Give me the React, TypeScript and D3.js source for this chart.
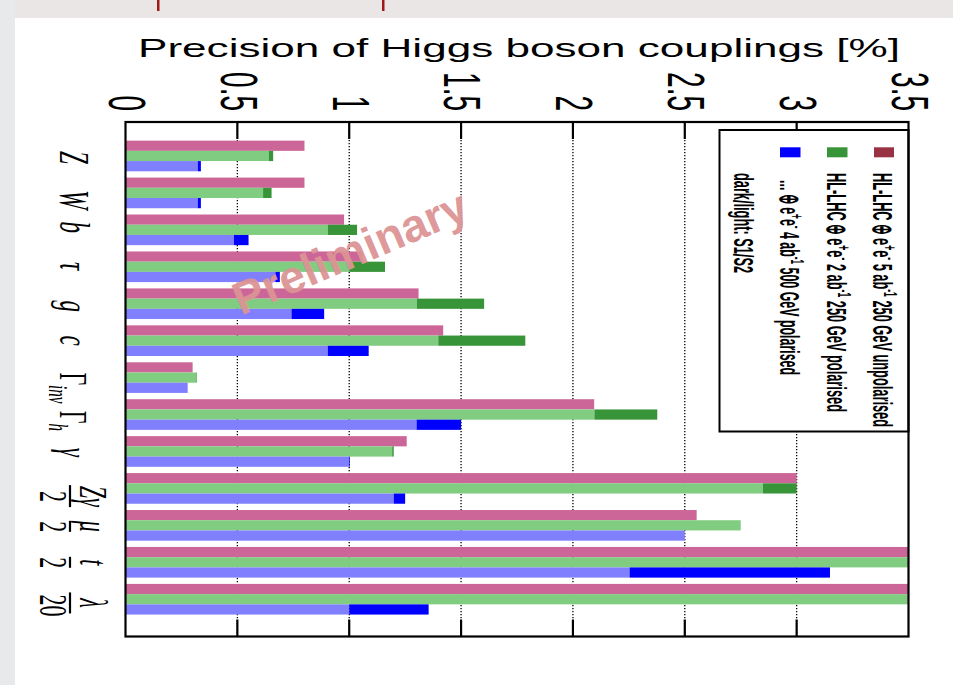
import React from "react";
import * as d3 from "d3";

// ---- data ----
const categories = ["Z", "W", "b", "tau", "g", "c", "Ginv", "Gh", "gamma", "Zgamma", "mu", "t", "lambda"];
// HL-LHC + e+e- 5 ab^-1 250 GeV unpolarised
const pinkValues = [0.8, 0.8, 0.977, 1.06, 1.31, 1.42, 0.3, 2.095, 1.257, 3.0, 2.553, 3.6, 3.6];
// HL-LHC + e+e- 2 ab^-1 250 GeV polarised (light = S2, dark = S1)
const greenS2 = [0.64, 0.615, 0.905, 1.0, 1.302, 1.398, 0.315, 2.096, 1.192, 2.849, 2.75, 3.6, 3.6];
const greenS1 = [0.66, 0.653, 1.035, 1.16, 1.603, 1.787, 0.318, 2.377, 1.199, 3.0, 2.75, 3.6, 3.6];
// ... + e+e- 4 ab^-1 500 GeV polarised (light = S2, dark = S1)
const blueS2 = [0.323, 0.323, 0.485, 0.67, 0.742, 0.904, 0.278, 1.301, 1.0, 1.199, 2.5, 2.253, 1.0];
const blueS1 = [0.337, 0.337, 0.55, 0.69, 0.888, 1.087, 0.278, 1.5, 1.003, 1.25, 2.5, 3.149, 1.355];
const xTicks = [0, 0.5, 1, 1.5, 2, 2.5, 3, 3.5];
const xTickLabels = ["0", "0.5", "1", "1.5", "2", "2.5", "3", "3.5"];
const gridTicks = [0.5, 1, 1.5, 2, 2.5, 3];
const labelShift = [1.5, 7, -2.5, -0.7, 2.5, 0, 1.3, 2.7, 0.8, 7.7, 1, 0, 3.7];

const S = 1.85; // horizontal stretch of the rotated text
const SANS = "'Liberation Sans', Arial, Helvetica, sans-serif";
const NARROW = "'Liberation Sans Narrow', 'Arial Narrow', 'Liberation Sans', sans-serif";
const SERIF = "'Liberation Serif', 'Times New Roman', serif";

const C = {
  pink: "#cc6699",
  pinkDark: "#993344",
  greenLight: "#80cc80",
  greenDark: "#389438",
  blueLight: "#8080ff",
  blueDark: "#0000ff",
};

function RT(props: any) {
  const { x, y, anchor = "middle", fs = 22, family = SERIF, italic = false, dy, weight, textLength, children } = props;
  return (
    <g transform={`translate(${x},${y}) scale(${S},1) rotate(90)`}>
      <text
        textAnchor={anchor}
        fontSize={fs}
        fontFamily={family}
        fontStyle={italic ? "italic" : "normal"}
        fontWeight={weight || "normal"}
        dy={dy}
        textLength={textLength}
        lengthAdjust={textLength ? "spacingAndGlyphs" : undefined}
        fill="#000"
      >
        {children}
      </text>
    </g>
  );
}

export default function App() {
  const W = 953, H = 685;
  const top = 122, bottom = 636.5;
  const x = d3.scaleLinear().domain([0, 3.5]).range([125.5, 908.5]).clamp(true);
  const y = d3.scaleBand<string>().domain(categories).range([137.5, 617.7]).paddingInner(0.17).paddingOuter(0.085);
  const sub = d3.scaleBand<string>().domain(["pink", "green", "blue"]).range([0, y.bandwidth()]);
  const bh = sub.bandwidth();

  const bar = (key: string, c: string, v0: number, v1: number, fill: string) => (
    <rect key={key} x={x(v0)} y={(y(c) as number) + (sub(key.split("-")[0]) as number)} width={Math.max(0, x(v1) - x(v0))} height={bh} fill={fill} />
  );

  const label = (c: string, i: number) => {
    const cy = (y(c) as number) + y.bandwidth() / 2 + labelShift[i];
    const simple: any = { Z: "Z", W: "W", b: "b", tau: "τ", g: "g", c: "c", gamma: "γ" };
    if (simple[c]) return <RT key={c} x={60} y={cy} italic fs={23}>{simple[c]}</RT>;
    if (c === "Ginv" || c === "Gh")
      return (
        <g key={c}>
          <g transform={`translate(60,${cy}) scale(${S},1) rotate(90)`}>
            <text x={-6.5} fontSize={22} fontFamily={SERIF} textAnchor="start">
              Γ
              <tspan dy={6} fontSize={15} fontStyle="italic">{c === "Ginv" ? "inv" : "h"}</tspan>
            </text>
          </g>
        </g>
      );
    const frac: any = {
      Zgamma: { num: "Zγ", den: "2", half: 11 },
      mu: { num: "μ", den: "2", half: 5.5 },
      t: { num: "t", den: "2", half: 5.5 },
      lambda: { num: "λ", den: "20", half: 10.5 },
    };
    const f = frac[c];
    return (
      <g key={c}>
        <RT x={80} y={cy} italic>{f.num}</RT>
        <line x1={70} x2={70} y1={cy - f.half} y2={cy + f.half} stroke="#000" strokeWidth={2.2} />
        <RT x={40} y={cy + (c === "lambda" ? 2.5 : 0.5)}>{f.den}</RT>
      </g>
    );
  };

  const legX = 719.5, legR = 908.5, legT = 130, legB = 431.5;
  const sup = (s: string) => [
    <tspan key={s + "a"} dy={-6} fontSize={10}>{s}</tspan>,
  ];

  return (
    <svg width={W} height={H} style={{ position: "absolute", left: 0, top: 0, background: "#fff" }}>
      {/* slide background remnants */}
      <rect x={0} y={0} width={W} height={18} fill="#ebe6e6" />
      <rect x={0} y={0} width={15} height={H} fill="#e7e9eb" />
      <rect x={157} y={0} width={2.5} height={11} fill="#a01818" />
      <rect x={382} y={0} width={2.5} height={11} fill="#a01818" />

      {/* title */}
      <text x={138} y={57} fontSize={25} fontFamily={SANS} textLength={762} lengthAdjust="spacingAndGlyphs" fill="#000">
        Precision of Higgs boson couplings [%]
      </text>

      {/* tick labels */}
      {xTicks.map((t, i) => (
        <RT key={"tl" + i} x={x(t) + 2} y={111} anchor="end" fs={28} family={SANS} dy="0.36em">
          {xTickLabels[i]}
        </RT>
      ))}

      {/* plot area */}
      <rect x={x(0)} y={top} width={x(3.5) - x(0)} height={bottom - top} fill="#fff" />
      {gridTicks.map((t) => (
        <line key={"g" + t} x1={x(t)} x2={x(t)} y1={top} y2={bottom} stroke="#000" strokeWidth={1.3} strokeDasharray="1.3 1.7" />
      ))}

      {/* bars */}
      {categories.map((c, i) => (
        <g key={"b" + c}>
          {bar("pink", c, 0, pinkValues[i], C.pink)}
          {bar("green-l", c, 0, greenS2[i], C.greenLight)}
          {bar("green-d", c, greenS2[i], greenS1[i], C.greenDark)}
          {bar("blue-l", c, 0, blueS2[i], C.blueLight)}
          {bar("blue-d", c, blueS2[i], blueS1[i], C.blueDark)}
        </g>
      ))}

      {/* ticks */}
      {xTicks.slice(1, -1).map((t) => (
        <g key={"tk" + t}>
          <line x1={x(t)} x2={x(t)} y1={top} y2={top + 17} stroke="#000" strokeWidth={2.2} />
          <line x1={x(t)} x2={x(t)} y1={bottom} y2={bottom - 17} stroke="#000" strokeWidth={2.2} />
        </g>
      ))}

      {/* legend */}
      <rect x={legX} y={legT} width={legR - legX} height={legB - legT} fill="#fff" stroke="#000" strokeWidth={2} />
      <rect x={874} y={147.3} width={20} height={10} fill={C.pinkDark} />
      <rect x={827} y={147.3} width={20.5} height={10} fill={C.greenDark} />
      <rect x={780} y={147.3} width={20.5} height={10} fill={C.blueDark} />
      <RT x={873} y={173} anchor="start" fs={15} family={NARROW} weight="bold" textLength={254}>
        HL-LHC ⊕ e{sup("+")}<tspan dy={6}>e</tspan>
        {sup("-")}
        <tspan dy={6}> 5 ab</tspan>
        {sup("-1")}
        <tspan dy={6}> 250 GeV unpolarised</tspan>
      </RT>
      <RT x={827} y={173} anchor="start" fs={15} family={NARROW} weight="bold" textLength={239}>
        HL-LHC ⊕ e{sup("+")}<tspan dy={6}>e</tspan>
        {sup("-")}
        <tspan dy={6}> 2 ab</tspan>
        {sup("-1")}
        <tspan dy={6}> 250 GeV polarised</tspan>
      </RT>
      <RT x={780} y={180} anchor="start" fs={15} family={NARROW} weight="bold" textLength={195}>
        ... ⊕ e{sup("+")}<tspan dy={6}>e</tspan>
        {sup("-")}
        <tspan dy={6}> 4 ab</tspan>
        {sup("-1")}
        <tspan dy={6}> 500 GeV polarised</tspan>
      </RT>
      <RT x={734} y={173} anchor="start" fs={15} family={NARROW} weight="bold" textLength={100}>
        dark/light: S1/S2
      </RT>

      {/* frame */}
      <rect x={x(0)} y={top} width={x(3.5) - x(0)} height={bottom - top} fill="none" stroke="#000" strokeWidth={2.2} />

      {/* category labels */}
      {categories.map((c, i) => label(c, i))}

      {/* watermark */}
      <text
        transform="translate(350,252) rotate(-23)"
        textAnchor="middle"
        dominantBaseline="central"
        fontSize={46}
        fontWeight="bold"
        fontFamily={SANS}
        fill="#dc9494"
        fillOpacity={0.95}
      >
        Preliminary
      </text>
    </svg>
  );
}
